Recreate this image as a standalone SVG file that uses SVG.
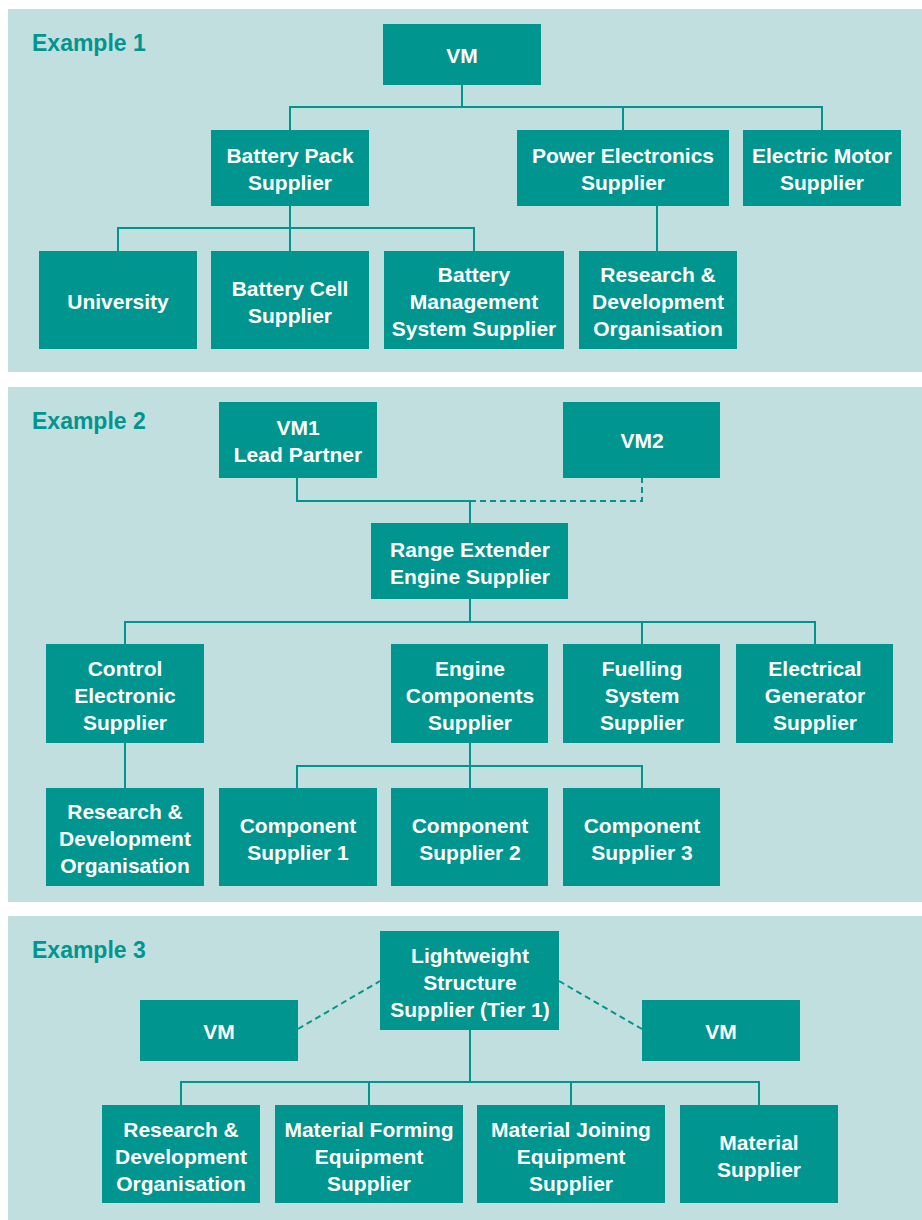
<svg xmlns="http://www.w3.org/2000/svg" width="922" height="1220" viewBox="0 0 922 1220">
  <style>
    .panel { fill: #c2dfdf; }
    .title { font-family: "Liberation Sans", Arial, sans-serif; font-weight: bold; font-size: 23px; fill: #00958f; }
    .box { fill: #00958f; }
    .lbl { font-family: "Liberation Sans", Arial, sans-serif; font-weight: bold; font-size: 21px; fill: #ffffff; text-anchor: middle; }
    .ln { fill: none; stroke: #00958f; stroke-width: 2; }
    .dash { fill: none; stroke: #00958f; stroke-width: 2; stroke-dasharray: 6 4; }
  </style>

  <!-- panels -->
  <rect class="panel" x="8" y="9" width="914" height="363"/>
  <rect class="panel" x="8" y="387" width="914" height="515"/>
  <rect class="panel" x="8" y="916" width="914" height="304"/>

  <text class="title" x="32" y="51">Example 1</text>
  <text class="title" x="32" y="429">Example 2</text>
  <text class="title" x="32" y="958">Example 3</text>

  <!-- connectors -->
  <g id="connectors">
    <!-- example 1 -->
    <path class="ln" d="M462 85 V107 M290 130 V107 H822 V130 M623 107 V130"/>
    <path class="ln" d="M290 206 V251 M118 251 V228 H474 V251"/>
    <path class="ln" d="M657 206 V251"/>
    <!-- example 2 -->
    <path class="ln" d="M297 478 V501 H470 V523"/>
    <path class="dash" d="M470 501 H642 V478"/>
    <path class="ln" d="M470 599 V622 M125 644 V622 H815 V644 M642 622 V644"/>
    <path class="ln" d="M125 743 V788"/>
    <path class="ln" d="M470 743 V788 M297 788 V766 H642 V788"/>
    <!-- example 3 -->
    <path class="dash" d="M298 1029 L380 981"/>
    <path class="dash" d="M559 981 L642 1029"/>
    <path class="ln" d="M470 1030 V1082 M181 1105 V1082 H759 V1105 M369 1082 V1105 M571 1082 V1105"/>
  </g>

  <!-- example 1 nodes -->
  <g id="e1-vm"><rect class="box" x="383" y="24" width="158" height="61"/><text class="lbl" x="462" y="63">VM</text></g>
  <g id="e1-battery-pack"><rect class="box" x="211" y="130" width="158" height="76"/><text class="lbl" x="290" y="163">Battery Pack</text><text class="lbl" x="290" y="190">Supplier</text></g>
  <g id="e1-power-electronics"><rect class="box" x="517" y="130" width="212" height="76"/><text class="lbl" x="623" y="163">Power Electronics</text><text class="lbl" x="623" y="190">Supplier</text></g>
  <g id="e1-electric-motor"><rect class="box" x="743" y="130" width="158" height="76"/><text class="lbl" x="822" y="163">Electric Motor</text><text class="lbl" x="822" y="190">Supplier</text></g>
  <g id="e1-university"><rect class="box" x="39" y="251" width="158" height="98"/><text class="lbl" x="118" y="309">University</text></g>
  <g id="e1-battery-cell"><rect class="box" x="211" y="251" width="158" height="98"/><text class="lbl" x="290" y="296">Battery Cell</text><text class="lbl" x="290" y="323">Supplier</text></g>
  <g id="e1-bms"><rect class="box" x="384" y="251" width="180" height="98"/><text class="lbl" x="474" y="282">Battery</text><text class="lbl" x="474" y="309">Management</text><text class="lbl" x="474" y="336">System Supplier</text></g>
  <g id="e1-rnd"><rect class="box" x="579" y="251" width="158" height="98"/><text class="lbl" x="658" y="282">Research &amp;</text><text class="lbl" x="658" y="309">Development</text><text class="lbl" x="658" y="336">Organisation</text></g>

  <!-- example 2 nodes -->
  <g id="e2-vm1"><rect class="box" x="219" y="402" width="158" height="76"/><text class="lbl" x="298" y="435">VM1</text><text class="lbl" x="298" y="462">Lead Partner</text></g>
  <g id="e2-vm2"><rect class="box" x="563" y="402" width="157" height="76"/><text class="lbl" x="642" y="448">VM2</text></g>
  <g id="e2-range-extender"><rect class="box" x="371" y="523" width="197" height="76"/><text class="lbl" x="470" y="557">Range Extender</text><text class="lbl" x="470" y="584">Engine Supplier</text></g>
  <g id="e2-control"><rect class="box" x="46" y="644" width="158" height="99"/><text class="lbl" x="125" y="676">Control</text><text class="lbl" x="125" y="703">Electronic</text><text class="lbl" x="125" y="730">Supplier</text></g>
  <g id="e2-engine-components"><rect class="box" x="391" y="644" width="157" height="99"/><text class="lbl" x="470" y="676">Engine</text><text class="lbl" x="470" y="703">Components</text><text class="lbl" x="470" y="730">Supplier</text></g>
  <g id="e2-fuelling"><rect class="box" x="563" y="644" width="157" height="99"/><text class="lbl" x="642" y="676">Fuelling</text><text class="lbl" x="642" y="703">System</text><text class="lbl" x="642" y="730">Supplier</text></g>
  <g id="e2-generator"><rect class="box" x="736" y="644" width="157" height="99"/><text class="lbl" x="815" y="676">Electrical</text><text class="lbl" x="815" y="703">Generator</text><text class="lbl" x="815" y="730">Supplier</text></g>
  <g id="e2-rnd"><rect class="box" x="46" y="788" width="158" height="98"/><text class="lbl" x="125" y="819">Research &amp;</text><text class="lbl" x="125" y="846">Development</text><text class="lbl" x="125" y="873">Organisation</text></g>
  <g id="e2-comp1"><rect class="box" x="219" y="788" width="158" height="98"/><text class="lbl" x="298" y="833">Component</text><text class="lbl" x="298" y="860">Supplier 1</text></g>
  <g id="e2-comp2"><rect class="box" x="391" y="788" width="157" height="98"/><text class="lbl" x="470" y="833">Component</text><text class="lbl" x="470" y="860">Supplier 2</text></g>
  <g id="e2-comp3"><rect class="box" x="563" y="788" width="157" height="98"/><text class="lbl" x="642" y="833">Component</text><text class="lbl" x="642" y="860">Supplier 3</text></g>

  <!-- example 3 nodes -->
  <g id="e3-lightweight"><rect class="box" x="380" y="931" width="179" height="99"/><text class="lbl" x="470" y="963">Lightweight</text><text class="lbl" x="470" y="990">Structure</text><text class="lbl" x="470" y="1017">Supplier (Tier 1)</text></g>
  <g id="e3-vm-left"><rect class="box" x="140" y="1000" width="158" height="61"/><text class="lbl" x="219" y="1039">VM</text></g>
  <g id="e3-vm-right"><rect class="box" x="642" y="1000" width="158" height="61"/><text class="lbl" x="721" y="1039">VM</text></g>
  <g id="e3-rnd"><rect class="box" x="102" y="1105" width="158" height="98"/><text class="lbl" x="181" y="1137">Research &amp;</text><text class="lbl" x="181" y="1164">Development</text><text class="lbl" x="181" y="1191">Organisation</text></g>
  <g id="e3-forming"><rect class="box" x="275" y="1105" width="188" height="98"/><text class="lbl" x="369" y="1137">Material Forming</text><text class="lbl" x="369" y="1164">Equipment</text><text class="lbl" x="369" y="1191">Supplier</text></g>
  <g id="e3-joining"><rect class="box" x="477" y="1105" width="188" height="98"/><text class="lbl" x="571" y="1137">Material Joining</text><text class="lbl" x="571" y="1164">Equipment</text><text class="lbl" x="571" y="1191">Supplier</text></g>
  <g id="e3-material"><rect class="box" x="680" y="1105" width="158" height="98"/><text class="lbl" x="759" y="1150">Material</text><text class="lbl" x="759" y="1177">Supplier</text></g>
</svg>
